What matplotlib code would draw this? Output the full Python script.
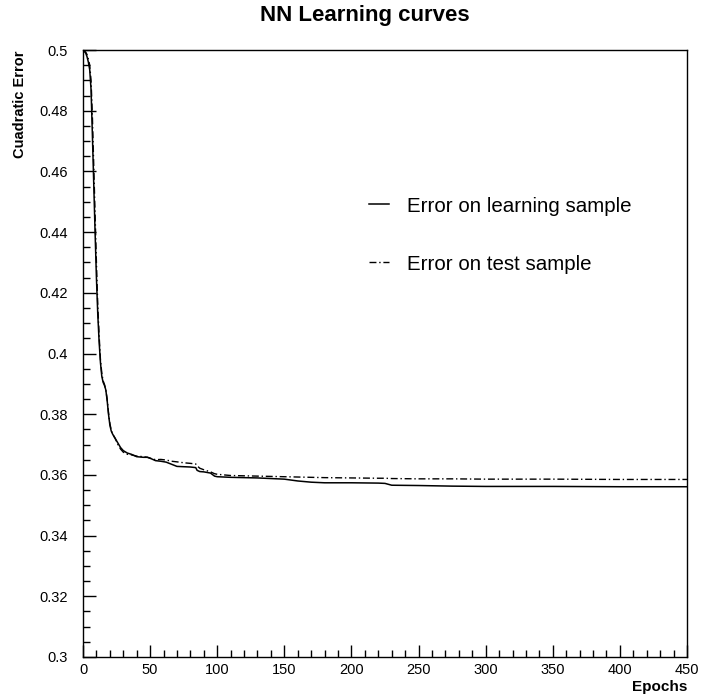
import matplotlib
matplotlib.use("Agg")
import matplotlib.pyplot as plt
from matplotlib.ticker import MultipleLocator

plt.rcParams['font.family'] = ['Liberation Sans', 'DejaVu Sans']

epochs = [0, 1, 2, 3, 4, 5, 6, 7, 8, 9, 10, 11, 12, 13, 14, 15, 16, 17, 18, 19,
          20, 21, 22, 24, 26, 28, 30, 33, 36, 40, 45, 48, 50, 54, 58, 62, 66, 70,
          75, 80, 84, 85, 87, 90, 95, 98, 100, 110, 120, 130, 140, 150, 160, 170,
          180, 200, 220, 225, 230, 250, 275, 300, 350, 400, 450]

learn_err = [0.5, 0.4995, 0.499, 0.4978, 0.496, 0.4935, 0.487, 0.472, 0.456, 0.440,
             0.425, 0.413, 0.404, 0.397, 0.3925, 0.3905, 0.3895, 0.388, 0.3845, 0.380,
             0.3765, 0.3745, 0.3735, 0.372, 0.3705, 0.369, 0.368, 0.3672, 0.3668, 0.366,
             0.3658, 0.3658, 0.3655, 0.3647, 0.3645, 0.3642, 0.3635, 0.3628, 0.3627, 0.3626,
             0.3624, 0.3615, 0.3611, 0.361, 0.3606, 0.3596, 0.3594, 0.3592, 0.3591, 0.359,
             0.3588, 0.3586, 0.358, 0.3576, 0.3574, 0.3574, 0.3573, 0.3572, 0.3566, 0.3565,
             0.3563, 0.3562, 0.3562, 0.3561, 0.3561]

test_err = [0.5, 0.4997, 0.4993, 0.4985, 0.497, 0.495, 0.490, 0.478, 0.462, 0.446,
            0.430, 0.416, 0.406, 0.398, 0.3935, 0.391, 0.3898, 0.388, 0.385, 0.3805,
            0.377, 0.3748, 0.3735, 0.372, 0.370, 0.3685, 0.3675, 0.3668, 0.3666, 0.3662,
            0.366, 0.3658, 0.3655, 0.365, 0.3651, 0.3649, 0.3645, 0.3643, 0.364, 0.3638,
            0.3636, 0.363, 0.3622, 0.3617, 0.361, 0.3604, 0.3602, 0.3598, 0.3597, 0.3596,
            0.3595, 0.3594, 0.3593, 0.3592, 0.3591, 0.359, 0.3589, 0.3589, 0.3588, 0.3587,
            0.3587, 0.3586, 0.3586, 0.3585, 0.3585]

fig = plt.figure(figsize=(7.02, 6.96), dpi=100)
ax = fig.add_axes([83/702, 39/696, 604/702, 607/696])

ax.plot(epochs, learn_err, color='black', lw=1.1, label='Error on learning sample')
ax.plot(epochs, test_err, color='black', lw=1.0, linestyle=(0, (5, 2, 1, 2)),
        label='Error on test sample')

ax.set_xlim(0, 450)
ax.set_ylim(0.3, 0.5)
ax.xaxis.set_major_locator(MultipleLocator(50))
ax.xaxis.set_minor_locator(MultipleLocator(10))
ax.yaxis.set_minor_locator(MultipleLocator(0.005))
ax.set_yticks([0.3, 0.32, 0.34, 0.36, 0.38, 0.4, 0.42, 0.44, 0.46, 0.48, 0.5])
ax.set_yticklabels(['0.3', '0.32', '0.34', '0.36', '0.38', '0.4', '0.42', '0.44',
                    '0.46', '0.48', '0.5'])
ax.tick_params(which='both', direction='in', top=False, right=False,
               labelsize=10.5, width=1)
ax.tick_params(which='major', length=9)
ax.tick_params(which='minor', length=5)
ax.tick_params(axis='y', pad=11)
ax.tick_params(axis='x', pad=4)
for s in ax.spines.values():
    s.set_linewidth(1)

fig.text(365/702, 1 - 15/696, 'NN Learning curves', ha='center', va='center',
         fontsize=16, fontweight='bold')
fig.text(20/702, 1 - 51/696, 'Cuadratic Error', ha='center', va='top',
         rotation=90, fontsize=10.5, fontweight='bold')
fig.text(687/702, 1 - 687/696, 'Epochs', ha='right', va='center',
         fontsize=11, fontweight='bold')

ax.legend(loc='center left', bbox_to_anchor=(0.443, 0.695), frameon=False,
          fontsize=14.8, handlelength=0.97, handletextpad=0.87, labelspacing=1.9)

fig.savefig('out.png', dpi=100)
